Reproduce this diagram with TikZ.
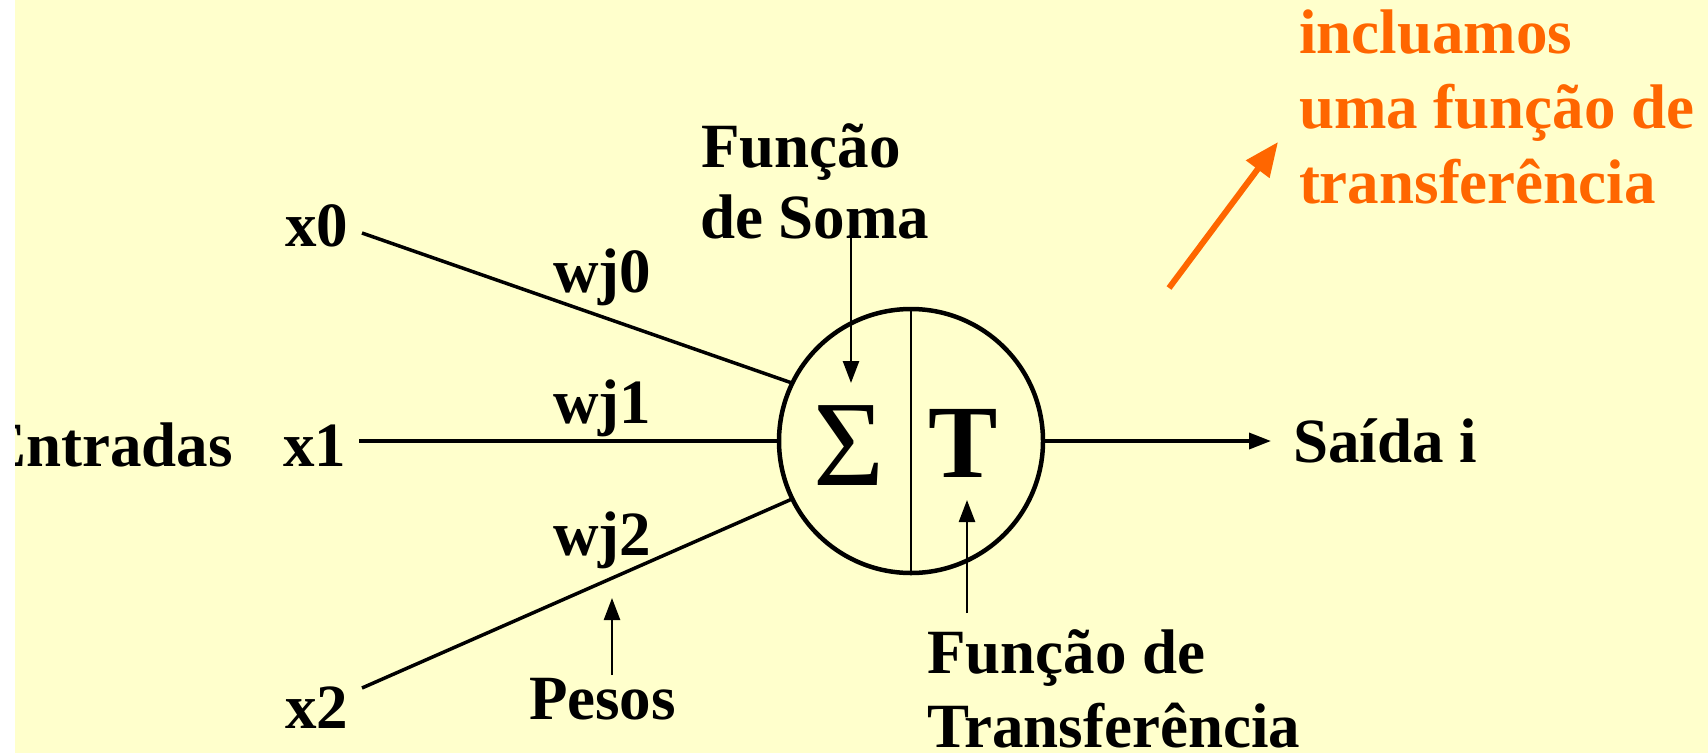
\documentclass[tikz,border=0pt]{standalone}
\usepackage{fontspec}
\setmainfont{Liberation Serif}
\usetikzlibrary{arrows.meta}
\definecolor{bgyellow}{RGB}{255,255,204}
\definecolor{orng}{RGB}{255,102,0}
\begin{document}
\begin{tikzpicture}[x=1pt,y=-1pt,
  lbl/.style={inner sep=0pt, outer sep=0pt, anchor=base west, font=\fontsize{63}{72}\selectfont\bfseries},
  wire/.style={line width=3.5pt},
  arr/.style={line width=2.5pt, -{Triangle[length=22pt,width=16pt]}},
  oarr/.style={orng, line width=6pt, -{Triangle[length=34pt,width=28pt]}}]
\fill[bgyellow] (0,0) rectangle (1708,753);
\useasboundingbox (0,0) rectangle (1708,753);

% neuron
\node[draw, circle, line width=4.5pt, minimum size=264pt, inner sep=0pt, outer sep=0pt] (n) at (911,441) {};
\draw[line width=2.5pt] (n.north) -- (n.south);
\node[inner sep=0pt, font=\fontsize{122}{122}\selectfont] (sig) at (849,446) {Σ};
\node[inner sep=0pt, font=\fontsize{104}{104}\selectfont\bfseries] (tt) at (963,443) {T};

% inputs
\node[lbl] (x0) at (285,246) {x0};
\node[lbl] (x1) at (283,466) {x1};
\node[lbl] (x2) at (285,728) {x2};
\node[lbl, anchor=base east] (entr) at (233,466) {Entradas};
\node[lbl] (w0) at (553,292) {wj0};
\node[lbl] (w1) at (553,423) {wj1};
\node[lbl] (w2) at (553,555) {wj2};
\node[lbl] (pesos) at (529,719) {Pesos};

\coordinate (s0) at (362,233);
\coordinate (s1) at (359,441);
\coordinate (s2) at (362,688);
\draw[wire] (s0) -- (n.154);
\draw[wire] (s1) -- (n.west);
\draw[wire] (s2) -- (n.206);

% labels with arrows
\node[lbl] (fs1) at (701,167) {Função};
\node[lbl] (fs2) at (700,238) {de Soma};
\coordinate (sigtail) at (851,238);
\coordinate (sigtip) at (851,383);
\draw[arr] (sigtail) -- (sigtip);

\node[lbl] (ft1) at (927,673) {Função de};
\node[lbl] (ft2) at (927,747) {Transferência};
\coordinate (ttail) at (967,613);
\coordinate (ttip) at (967,500);
\draw[arr] (ttail) -- (ttip);

\coordinate (ptail) at (612,675);
\coordinate (ptip) at (612,598);
\draw[arr] (ptail) -- (ptip);

% output
\coordinate (outtip) at (1271,441);
\draw[arr, line width=3.5pt] (n.east) -- (outtip);
\node[lbl] (out) at (1293,462) {Saída i};

% orange note
\node[lbl, text=orng] (o1) at (1299,53) {incluamos};
\node[lbl, text=orng] (o2) at (1299,128) {uma função de};
\node[lbl, text=orng] (o3) at (1299,203) {transferência};
\coordinate (otail) at (1169,288);
\coordinate (otip) at (1278,142);
\draw[oarr] (otail) -- (otip);

% white strip at left edge
\fill[white] (0,0) rectangle (15,753);
\end{tikzpicture}
\end{document}
